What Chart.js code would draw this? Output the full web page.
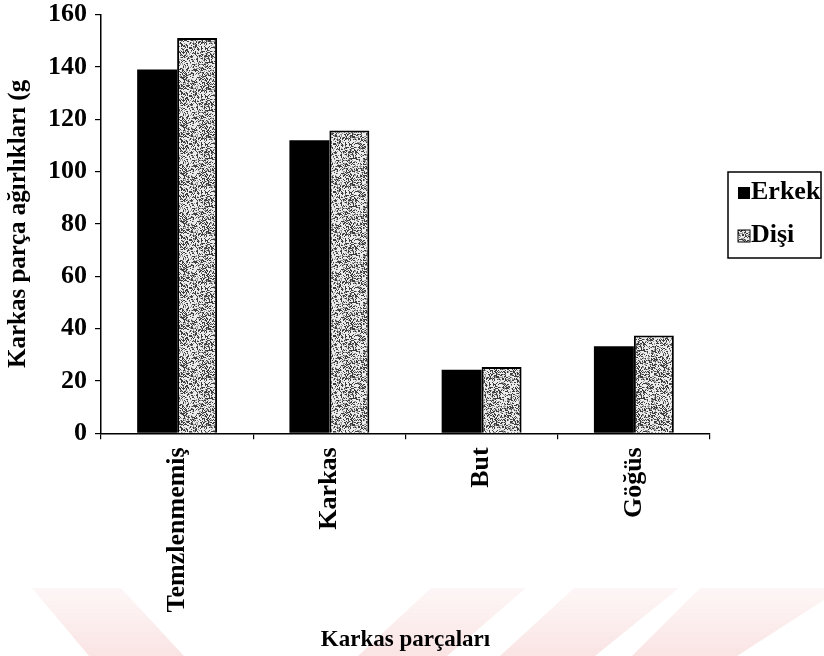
<!DOCTYPE html>
<html>
<head>
<meta charset="utf-8">
<script src="https://cdn.jsdelivr.net/npm/chart.js@4"></script>
<style>
  html, body { margin: 0; padding: 0; background: #fff; }
  #chart { display: block; }
</style>
</head>
<body>
<canvas id="chart" width="824" height="656"></canvas>
<script>
// ================= DATA =================
const categories = ["Temzlenmemiş", "Karkas", "But", "Göğüs"];
const seriesNames = ["Erkek", "Dişi"];
const erkek = [139, 112, 24.3, 33.3];
const disi = [151, 115.7, 25.3, 37.4];
const yTicks = [0, 20, 40, 60, 80, 100, 120, 140, 160];
const yTitle = "Karkas parça ağırlıkları (g";
const xTitle = "Karkas parçaları";

const FONT = "'Liberation Serif', 'DejaVu Serif', serif";

// ================= STIPPLE =================
function makeStipple() {
  const c = document.createElement("canvas");
  c.width = c.height = 48;
  const g = c.getContext("2d");
  const img = g.createImageData(48, 48);
  let s = 987654;
  for (let i = 0; i < 48 * 48; i++) {
    s = (s * 1103515245 + 12345) & 0x7fffffff;
    const r = (s >> 8) % 100;
    const v = r < 30 ? 60 : (r < 45 ? 150 : 236);
    img.data[i * 4] = v;
    img.data[i * 4 + 1] = v;
    img.data[i * 4 + 2] = v;
    img.data[i * 4 + 3] = 255;
  }
  g.putImageData(img, 0, 0);
  return g.createPattern(c, "repeat");
}

const ctx = document.getElementById("chart").getContext("2d");
const stipple = makeStipple();

// ================= WATERMARK (background) =================
const watermark = {
  id: "watermark",
  beforeDraw(chart) {
    const c = chart.ctx;
    c.save();
    const grad = c.createLinearGradient(0, 585, 0, 656);
    grad.addColorStop(0, "rgba(248,215,215,0.2)");
    grad.addColorStop(1, "rgba(246,205,205,0.55)");
    c.fillStyle = grad;
    const shapes = [
      [[32, 588], [121, 588], [184, 656], [89, 656]],
      [[431, 588], [526, 588], [447, 656], [358, 656]],
      [[574, 588], [679, 588], [595, 656], [500, 656]],
      [[700, 588], [824, 588], [824, 600], [737, 656], [632, 656]]
    ];
    shapes.forEach(p => {
      c.beginPath();
      c.moveTo(p[0][0], p[0][1]);
      for (let i = 1; i < p.length; i++) c.lineTo(p[i][0], p[i][1]);
      c.closePath();
      c.fill();
    });
    c.restore();
  }
};

// ================= LEGEND (boxed) =================
const boxLegend = {
  id: "boxLegend",
  afterDraw(chart) {
    const c = chart.ctx;
    c.save();
    c.strokeStyle = "#000";
    c.lineWidth = 1.5;
    c.strokeRect(728, 172, 93, 86);
    c.font = "bold 26px " + FONT;
    c.textBaseline = "alphabetic";
    c.textAlign = "left";
    chart.data.datasets.forEach((ds, i) => {
      const y = 187 + i * 43;
      c.fillStyle = ds.backgroundColor;
      c.fillRect(738, y, 12, 12);
      if (i === 1) {
        c.strokeStyle = "#000";
        c.lineWidth = 1;
        c.strokeRect(738, y, 12, 12);
      }
      c.fillStyle = "#000";
      c.fillText(ds.label, 751, y + 12);
    });
    c.restore();
  }
};

// ================= CHART =================
new Chart(ctx, {
  type: "bar",
  data: {
    labels: categories,
    datasets: [
      {
        label: seriesNames[0],
        data: erkek,
        backgroundColor: "#000",
        borderWidth: 0,
        categoryPercentage: 0.525,
        barPercentage: 1.0
      },
      {
        label: seriesNames[1],
        data: disi,
        backgroundColor: stipple,
        borderColor: "#000",
        borderWidth: 2,
        categoryPercentage: 0.525,
        barPercentage: 1.0
      }
    ]
  },
  options: {
    responsive: false,
    animation: false,
    layout: { padding: { left: 4, right: 114, top: 0, bottom: 2 } },
    plugins: {
      legend: { display: false },
      tooltip: { enabled: false }
    },
    scales: {
      x: {
        grid: { display: true, drawOnChartArea: false, offset: true, tickLength: 6, color: "#000", lineWidth: 1.2 },
        border: { display: true, color: "#000", width: 1.5 },
        ticks: {
          color: "#000",
          maxRotation: 90,
          minRotation: 90,
          padding: 8,
          font: { family: FONT, size: 26, weight: "bold" }
        },
        title: {
          display: true,
          text: xTitle,
          color: "#000",
          padding: { top: 6, bottom: 0 },
          font: { family: FONT, size: 23, weight: "bold" }
        }
      },
      y: {
        min: 0,
        max: 160,
        afterBuildTicks(axis) {
          axis.ticks = yTicks.map(v => ({ value: v }));
        },
        grid: { display: true, drawOnChartArea: false, tickLength: 6, color: "#000", lineWidth: 1.2 },
        border: { display: true, color: "#000", width: 1.5 },
        ticks: {
          color: "#000",
          padding: 8,
          font: { family: FONT, size: 26, weight: "bold", lineHeight: 0.5 }
        },
        title: {
          display: true,
          text: yTitle,
          color: "#000",
          padding: { top: 0, bottom: 6 },
          font: { family: FONT, size: 25, weight: "bold" }
        }
      }
    }
  },
  plugins: [watermark, boxLegend]
});
</script>
</body>
</html>
